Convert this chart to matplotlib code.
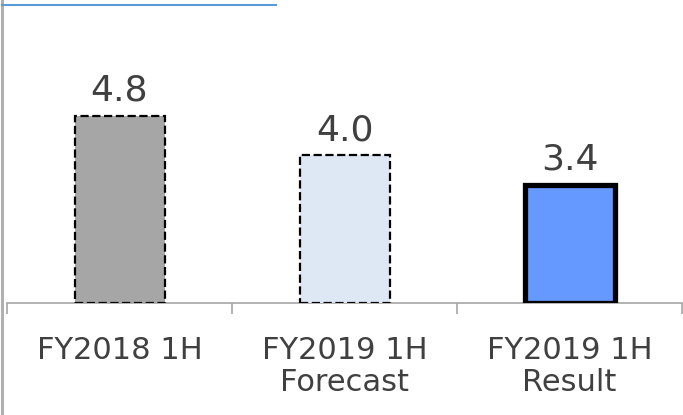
import matplotlib
matplotlib.use("Agg")
import matplotlib.pyplot as plt
from matplotlib.lines import Line2D

categories = ["FY2018 1H", "FY2019 1H\nForecast", "FY2019 1H\nResult"]
values = [4.8, 4.0, 3.4]
labels = ["4.8", "4.0", "3.4"]

face_colors = ["#A6A6A6", "#DEE8F5", "#6699FF"]
edge_styles = ["--", "--", "-"]
edge_widths = [1.6, 1.6, 3.8]

W, H = 683, 415
fig = plt.figure(figsize=(W / 100, H / 100), dpi=100)

ax_left, ax_right = 7, 682
ax_bottom, ax_top = 303, 5
ax = fig.add_axes([ax_left / W, 1 - ax_bottom / H,
                   (ax_right - ax_left) / W, (ax_bottom - ax_top) / H])

ymin = 1.0
ymax = ymin + (ax_bottom - ax_top) / 49.2
x = range(len(categories))
bars = ax.bar(x, [v - ymin for v in values], bottom=ymin, width=0.4,
              color=face_colors, zorder=3)
for b, ls, lw in zip(bars, edge_styles, edge_widths):
    b.set_edgecolor("black")
    b.set_linestyle(ls)
    b.set_linewidth(lw)
    b.set_joinstyle("miter")

for xi, v, t in zip(x, values, labels):
    ax.annotate(t, (xi, v), xytext=(0, 6), textcoords="offset points",
                ha="center", va="bottom", fontsize=26, color="#404040")

ax.set_xlim(-0.5, len(categories) - 0.5)
ax.set_ylim(ymin, ymax)
for s in ["top", "right", "left"]:
    ax.spines[s].set_visible(False)
ax.spines["bottom"].set_color("#A6A6A6")
ax.spines["bottom"].set_linewidth(1.2)
ax.set_yticks([])
ax.set_xticks([i - 0.5 for i in range(len(categories) + 1)])
ax.set_xticklabels([])
ax.tick_params(axis="x", length=8, width=1.2, color="#A6A6A6", direction="out")

for xi, c in zip(x, categories):
    ax.annotate(c, (xi, ymin), xytext=(0, -24), textcoords="offset points",
                ha="center", va="top", fontsize=22, color="#404040",
                linespacing=1.12, annotation_clip=False)

# frame lines around the panel
fig.add_artist(Line2D([2 / W, 2 / W], [0, 1], color="#B0B0B0", lw=2.2))
fig.add_artist(Line2D([2 / W, 276 / W], [1 - 5 / H, 1 - 5 / H],
                      color="#5B9BD5", lw=1.5))

fig.savefig("out.png", dpi=100)
